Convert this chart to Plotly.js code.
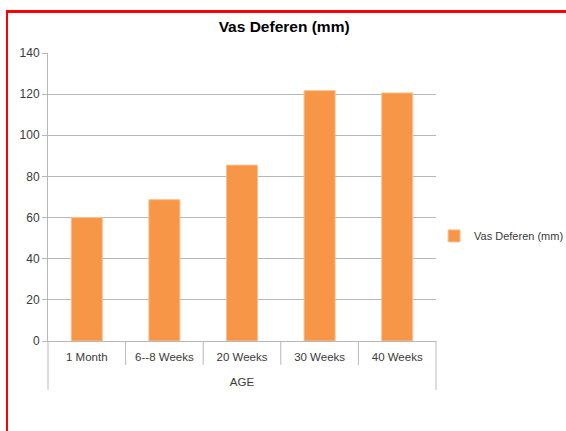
<!DOCTYPE html>
<html>
<head>
<meta charset="utf-8">
<script src="https://cdn.plot.ly/plotly-3.0.1.min.js"></script>
<style>
  html, body { margin: 0; padding: 0; background: #ffffff; overflow: hidden; }
  #wrap { position: relative; width: 566px; height: 431px; }
  #chart { position: absolute; left: 0; top: 0; width: 566px; height: 431px; }
  #frame {
    position: absolute; left: 6px; top: 10px; width: 620px; height: 500px;
    border-top: 3px solid #ff0000; border-left: 2px solid #ff0000;
    pointer-events: none; box-sizing: border-box;
  }
</style>
</head>
<body>
<div id="wrap">
  <div id="chart"></div>
  <div id="frame"></div>
</div>
<script>
// Vas deferens length by age group
const ages = ['1 Month', '6--8 Weeks', '20 Weeks', '30 Weeks', '40 Weeks'];
const lengthMm = [60, 68.7, 85.5, 121.7, 120.6];
const yTicks = [0, 20, 40, 60, 80, 100, 120, 140];

const FONT = 'Liberation Sans, Arial, sans-serif';
const GRID = '#b8b8b8';
const TEXT = '#3a3a3a';

// Excel-style category separators below the axis
const n = ages.length;
const dividers = [];
for (let i = 0; i <= n; i++) {
  const outer = (i === 0 || i === n);
  dividers.push({
    type: 'line', xref: 'x domain', yref: 'paper',
    x0: i / n, x1: i / n, y0: 0, y1: outer ? -0.17 : -0.083,
    line: { color: GRID, width: 1 }
  });
}

const trace = {
  type: 'bar',
  x: ages,
  y: lengthMm,
  name: 'Vas Deferen (mm)',
  marker: { color: '#f79646', line: { color: '#fac090', width: 1 } },
  hoverinfo: 'x+y'
};

const layout = {
  width: 566, height: 431,
  margin: { l: 48, r: 130, t: 53, b: 90, autoexpand: false },
  paper_bgcolor: '#ffffff', plot_bgcolor: '#ffffff',
  font: { family: FONT, size: 11, color: TEXT },
  title: {
    text: '<b>Vas Deferen (mm)</b>',
    font: { family: FONT, size: 15.5, color: '#000000' },
    x: 0.502, xref: 'container', xanchor: 'center',
    y: 0.938, yanchor: 'middle'
  },
  bargap: 0.6,
  showlegend: true,
  legend: {
    x: 0.995, xanchor: 'left', y: 0.365, yanchor: 'middle',
    font: { family: FONT, size: 11, color: TEXT },
    itemwidth: 30, bgcolor: 'rgba(0,0,0,0)'
  },
  xaxis: {
    type: 'category',
    range: [-0.5, n - 0.5],
    showline: true, linecolor: GRID, linewidth: 1,
    ticks: '', showgrid: false, zeroline: false,
    ticklabelstandoff: 5,
    tickfont: { family: FONT, size: 11.5, color: TEXT },
    title: { text: 'AGE', font: { family: FONT, size: 11.5, color: TEXT }, standoff: 16 }
  },
  yaxis: {
    range: [0, 140],
    tickvals: yTicks,
    showline: true, linecolor: GRID, linewidth: 1,
    ticks: 'outside', ticklen: 5, tickcolor: GRID,
    showgrid: true, gridcolor: GRID, gridwidth: 1,
    zeroline: false,
    tickfont: { family: FONT, size: 12, color: TEXT }
  },
  shapes: dividers
};

Plotly.newPlot('chart', [trace], layout, { displayModeBar: false, staticPlot: true });
</script>
</body>
</html>
